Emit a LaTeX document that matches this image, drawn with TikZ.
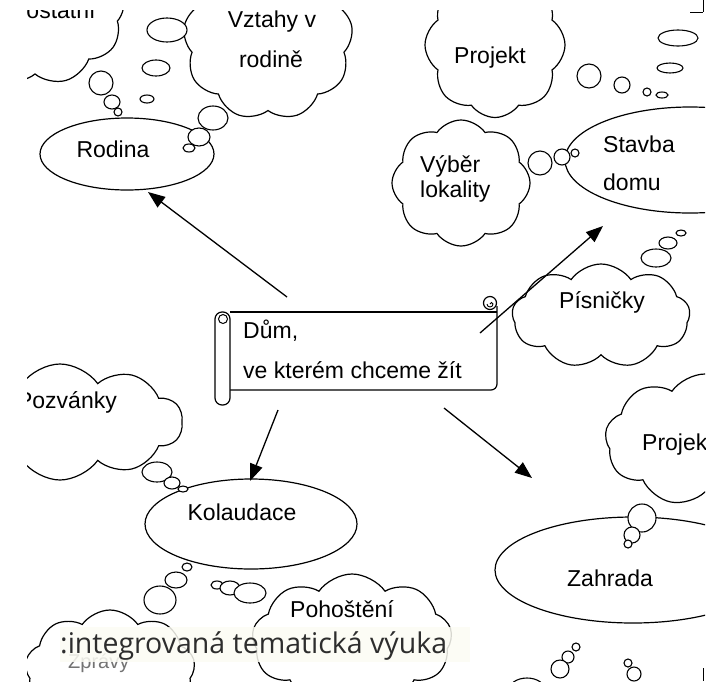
\documentclass[tikz,border=0pt]{standalone}
\usepackage{fontspec}
\setmainfont{Liberation Sans}
\newfontfamily\overlayfont{Open Sans}
\usetikzlibrary{shapes.symbols,shapes.geometric,arrows.meta}
\definecolor{bandcol}{RGB}{252,252,244}
\definecolor{ovtext}{RGB}{45,45,45}
\begin{document}
\begin{tikzpicture}[x=1pt,y=-1pt,
  lw/.style={line width=1.2pt},
  thought/.style={cloud, draw, line width=1.2pt, fill=white, cloud ignores aspect, cloud puff arc=110, inner sep=0pt, outer sep=0pt},
  oval/.style={ellipse, draw, line width=1.2pt, fill=white, inner sep=0pt, outer sep=0pt},
  bub/.style={draw, line width=1.1pt, fill=white},
  lbl/.style={font=\fontsize{23}{28}\selectfont, inner sep=0pt},
  arr/.style={line width=1.3pt, -{Triangle[length=17pt,width=13pt]}}]
\useasboundingbox (0,0) rectangle (709,681);
\fill[white] (0,0) rectangle (709,681);
\begin{scope}
\clip (27,10) rectangle (705,681);
% clouds
\node[thought, cloud puffs=9, minimum width=180pt, minimum height=150pt] (c1) at (35,10) {};
\node[thought, cloud puffs=9, minimum width=170pt, minimum height=160pt] (c2) at (268,40) {};
\node[thought, cloud puffs=8, minimum width=140pt, minimum height=145pt] (c3) at (495,45) {};
\node[thought, cloud puffs=8, minimum width=138pt, minimum height=126pt] (c4) at (461,183) {};
\node[thought, cloud puffs=9, minimum width=178pt, minimum height=104pt] (c5) at (601,316) {};
\node[thought, cloud puffs=10, minimum width=245pt, minimum height=116pt] (c6) at (60,422) {};
\node[thought, cloud puffs=9, minimum width=170pt, minimum height=120pt] (c7) at (110,670) {};
\node[thought, cloud puffs=9, minimum width=200pt, minimum height=132pt] (c8) at (352,640) {};
\node[thought, cloud puffs=9, minimum width=200pt, minimum height=132pt] (c9) at (705,440) {};
% ellipses
\node[oval, minimum width=174pt, minimum height=72pt] (rodina) at (127,154) {};
\node[oval, minimum width=250pt, minimum height=106pt] (stavba) at (690,160) {};
\node[oval, minimum width=212pt, minimum height=90pt] (kolaudace) at (251,524) {};
\node[oval, minimum width=276pt, minimum height=106pt] (zahrada) at (633,570) {};
% bubbles
\draw[bub] (101,83) ellipse (12pt and 12pt);
\draw[bub] (112,102) ellipse (8pt and 7pt);
\draw[bub] (118,112) ellipse (4pt and 4pt);
\draw[bub] (167,30) ellipse (20pt and 12pt);
\draw[bub] (156,68) ellipse (14pt and 8pt);
\draw[bub] (147,99) ellipse (7pt and 4pt);
\draw[bub] (213,118) ellipse (15pt and 12pt);
\draw[bub] (199,137) ellipse (11pt and 9pt);
\draw[bub] (189,148) ellipse (6pt and 4pt);
\draw[bub] (678,38) ellipse (20pt and 8pt);
\draw[bub] (670,68) ellipse (13pt and 5pt);
\draw[bub] (589,76) ellipse (12pt and 12pt);
\draw[bub] (622,85) ellipse (8pt and 8pt);
\draw[bub] (647,92) ellipse (4pt and 4pt);
\draw[bub] (662,95) ellipse (6pt and 3pt);
\draw[bub] (540,163) ellipse (12pt and 12pt);
\draw[bub] (562,157) ellipse (8pt and 8pt);
\draw[bub] (575,153) ellipse (4pt and 4pt);
\draw[bub] (656,258) ellipse (15pt and 9pt);
\draw[bub] (668,243) ellipse (9pt and 6pt);
\draw[bub] (681,233) ellipse (5pt and 3pt);
\draw[bub] (157,472) ellipse (15pt and 10pt);
\draw[bub] (172,483) ellipse (8pt and 6pt);
\draw[bub] (183,489) ellipse (5pt and 3pt);
\draw[bub] (187,567) ellipse (5pt and 4pt);
\draw[bub] (176,580) ellipse (11pt and 8pt);
\draw[bub] (160,600) ellipse (16pt and 14pt);
\draw[bub] (217,585) ellipse (6pt and 4pt);
\draw[bub] (230,588) ellipse (10pt and 7pt);
\draw[bub] (250,593) ellipse (16pt and 10pt);
\draw[bub] (642,518) ellipse (14pt and 14pt);
\draw[bub] (632,535) ellipse (8pt and 8pt);
\draw[bub] (628,544) ellipse (4pt and 4pt);
\draw[bub] (576,647) ellipse (4pt and 4pt);
\draw[bub] (568,657) ellipse (6pt and 6pt);
\draw[bub] (560,669) ellipse (9pt and 9pt);
\draw[bub] (527,690) ellipse (18pt and 12pt);
\draw[bub] (628,663) ellipse (4pt and 4pt);
\draw[bub] (634,674) ellipse (7pt and 7pt);
% labels
\node[lbl, anchor=base] (t1) at (61,18) {ostatní};
\node[lbl, anchor=base] (t2a) at (272,27) {Vztahy v};
\node[lbl, anchor=base] (t2b) at (271,67) {rodině};
\node[lbl, anchor=base] (t3) at (490,63) {Projekt};
\node[lbl, anchor=base] (trod) at (113,157) {Rodina};
\node[lbl, anchor=base west] (tst1) at (603,152) {Stavba};
\node[lbl, anchor=base west] (tst2) at (603,190) {domu};
\node[lbl, anchor=base west] (t4a) at (420,172) {Výběr};
\node[lbl, anchor=base west] (t4b) at (420,197) {lokality};
\node[lbl, anchor=base] (t5) at (602,308) {Písničky};
\node[lbl, anchor=base east] (t6) at (117,408) {Pozvánky};
\node[lbl, anchor=base] (tkol) at (242,520) {Kolaudace};
\node[lbl, anchor=base west] (t8) at (290,617) {Pohoštění};
\node[lbl, anchor=base] (tzah) at (610,586) {Zahrada};
\node[lbl, anchor=base west] (t9) at (642,450) {Projekt};
% scroll
\draw[lw] (230,312) -- (497,312);
\draw[lw] (497,306) -- (497,384) to[out=90+180,in=0] (491,390) -- (230,390);
\draw[lw, rounded corners=7pt, fill=white] (215,312) rectangle (230,405);
\draw[line width=1pt] (223,319) circle (4.5pt);
\draw[lw, fill=white] (490,303) circle (6.5pt);
\draw[line width=0.9pt] (487,304) arc (180:360:3pt) arc (0:180:1.5pt);
\node[lbl, anchor=base west] (d1) at (243,338) {Dům,};
\node[lbl, anchor=base west] (d2) at (243,378) {ve kterém chceme žít};
% arrows
\coordinate (a1s) at (287,297); \coordinate (a1e) at (148,192);
\coordinate (a2s) at (480,333); \coordinate (a2e) at (603,226);
\coordinate (a3s) at (278,410); \coordinate (a3e) at (250,481);
\coordinate (a4s) at (444,408); \coordinate (a4e) at (532,478);
\draw[arr] (a1s) -- (a1e);
\draw[arr] (a2s) -- (a2e);
\draw[arr] (a3s) -- (a3e);
\draw[arr] (a4s) -- (a4e);
\end{scope}
% edge marks
\draw[line width=1pt] (690,12) -- (703,12);
\draw[line width=1pt] (703,0) -- (703,12);
\draw[line width=1pt] (703,668) -- (703,681);
% overlay
\node[anchor=base west, font=\fontsize{20}{24}\selectfont, text=black!55, inner sep=0pt] (zp) at (68,668) {Zprávy};
\fill[bandcol, fill opacity=0.85] (60,627) rectangle (470,662);
\node[anchor=base west, text=ovtext, font=\overlayfont\fontsize{28.5}{34}\selectfont, inner sep=0pt] (ov) at (60,653) {:integrovaná tematická výuka};
\end{tikzpicture}
\end{document}
